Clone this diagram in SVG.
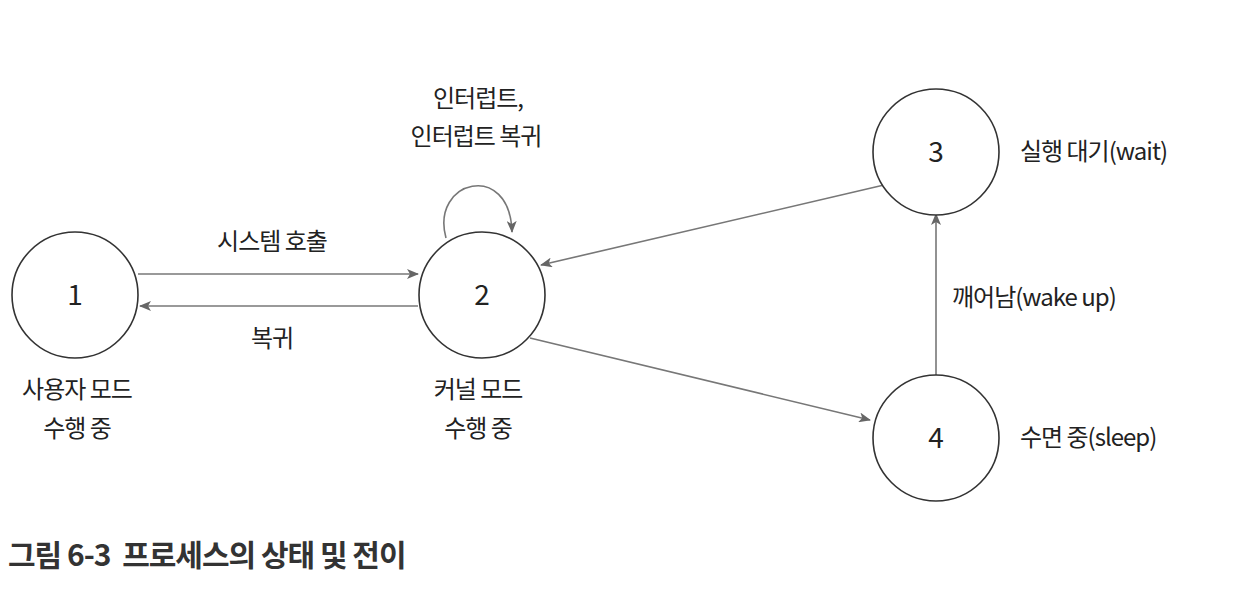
<svg xmlns="http://www.w3.org/2000/svg" width="1246" height="590" viewBox="0 0 1246 590">
<style>
.n{fill:#fff;stroke:#333;stroke-width:1.6}
.t{font-family:"Noto Sans CJK KR","Noto Sans",sans-serif;font-size:24px;fill:#222;letter-spacing:-1px}
.num{font-family:"Noto Sans CJK KR","Noto Sans",sans-serif;font-size:28px;fill:#222}
.c{stroke:#777;stroke-width:1.6;fill:none;marker-end:url(#a)}
</style>
<defs><marker id="a" markerWidth="12" markerHeight="10" refX="11" refY="5" orient="auto" markerUnits="userSpaceOnUse"><path d="M0,0 L12,5 L0,10 L3,5 z" fill="#666"/></marker></defs>
<rect width="1246" height="590" fill="#fff"/>
<g id="connectors">
<line class="c" x1="138" y1="274" x2="418" y2="274"/>
<line class="c" x1="418" y1="306" x2="140" y2="306"/>
<line class="c" x1="884" y1="185" x2="541" y2="265"/>
<line class="c" x1="530" y1="338" x2="870" y2="420"/>
<line class="c" x1="936" y1="375" x2="936" y2="214"/>
<path class="c" d="M446,238 C430,180 510,160 512,232"/>
</g>
<g id="n1"><circle class="n" cx="75" cy="295" r="63"/><text class="num" x="75" y="305" text-anchor="middle">1</text></g>
<g id="n2"><circle class="n" cx="482" cy="295" r="63"/><text class="num" x="482" y="305" text-anchor="middle">2</text></g>
<g id="n3"><circle class="n" cx="936" cy="152" r="63"/><text class="num" x="936" y="162" text-anchor="middle">3</text></g>
<g id="n4"><circle class="n" cx="936" cy="438" r="63"/><text class="num" x="936" y="448" text-anchor="middle">4</text></g>
<g id="labels" class="t">
<text x="272" y="250" text-anchor="middle">시스템 호출</text>
<text x="272" y="347" text-anchor="middle">복귀</text>
<text x="77" y="398" text-anchor="middle">사용자 모드</text>
<text x="77" y="437" text-anchor="middle">수행 중</text>
<text x="478" y="398" text-anchor="middle">커널 모드</text>
<text x="478" y="437" text-anchor="middle">수행 중</text>
<text x="478" y="107" text-anchor="middle">인터럽트,</text>
<text x="476" y="145" text-anchor="middle">인터럽트 복귀</text>
<text x="1020" y="160">실행 대기(wait)</text>
<text x="952" y="306">깨어남(wake up)</text>
<text x="1020" y="446">수면 중(sleep)</text>
</g>
<text x="8" y="566" xml:space="preserve" style="font-family:'Noto Sans CJK KR',sans-serif;font-size:30px;font-weight:bold;fill:#333;letter-spacing:-1px">그림 6-3  프로세스의 상태 및 전이</text>
</svg>
